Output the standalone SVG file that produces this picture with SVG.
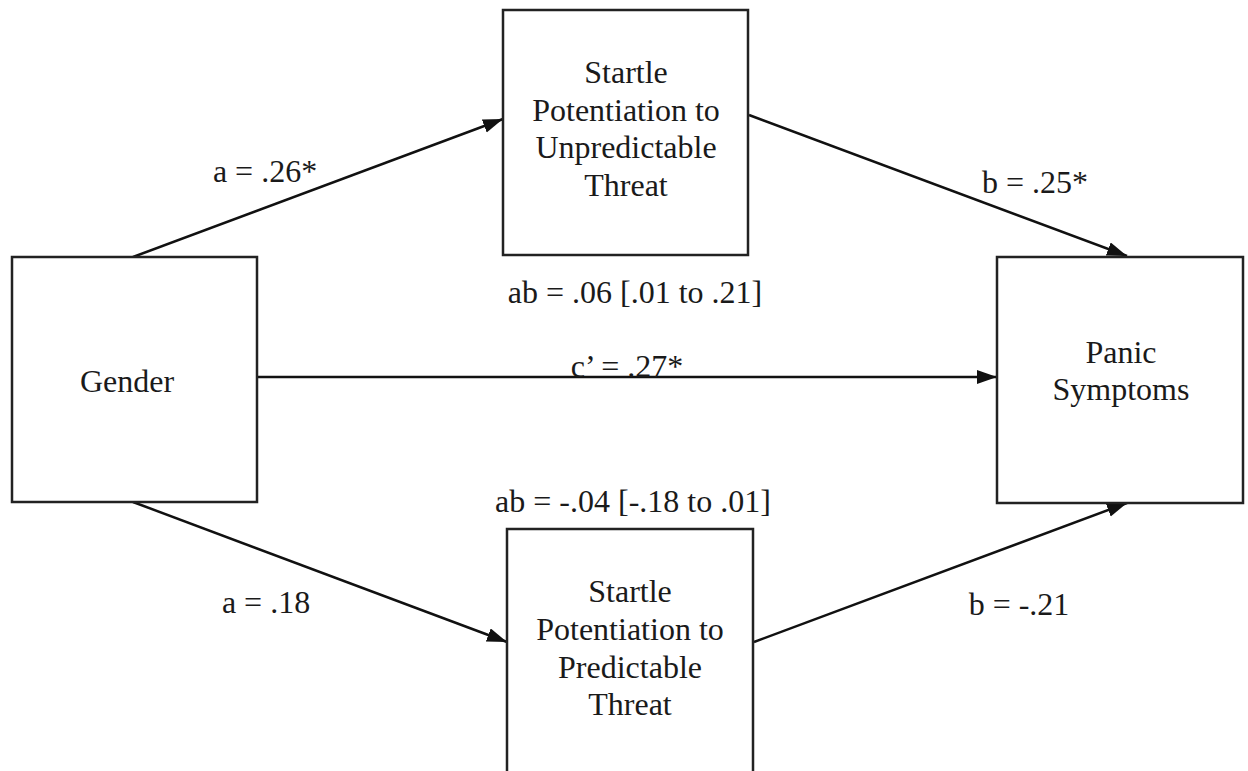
<svg xmlns="http://www.w3.org/2000/svg" width="1248" height="771" viewBox="0 0 1248 771">
<style>
.box{fill:#fff;stroke:#222;stroke-width:2.5}
.t{font-family:"Liberation Serif","Times New Roman",serif;font-size:32px;fill:#1a1a1a;text-anchor:middle}
.ln{stroke:#111;stroke-width:2.5;fill:none;marker-end:url(#ah)}
</style>
<defs>
<marker id="ah" markerUnits="userSpaceOnUse" markerWidth="22" markerHeight="16" refX="20" refY="7" orient="auto">
<path d="M0,0 L20,7 L0,14 z" fill="#111"/>
</marker>
</defs>
<rect width="1248" height="771" fill="#fff"/>
<g id="connectors">
<line class="ln" x1="133" y1="257" x2="503" y2="119"/>
<line class="ln" x1="749" y1="115" x2="1127" y2="256"/>
<line class="ln" x1="258" y1="377" x2="997" y2="377"/>
<line class="ln" x1="133" y1="502" x2="507" y2="642"/>
<line class="ln" x1="754" y1="642" x2="1127" y2="503"/>
<text class="t" x="265" y="182">a = .26*</text>
<text class="t" x="1035" y="193">b = .25*</text>
<text class="t" x="635" y="303">ab = .06 [.01 to .21]</text>
<text class="t" x="627" y="377">c’ = .27*</text>
<text class="t" x="633" y="512">ab = -.04 [-.18 to .01]</text>
<text class="t" x="266" y="613">a = .18</text>
<text class="t" x="1019" y="615">b = -.21</text>
</g>
<g id="gender">
<rect class="box" x="12" y="257" width="245" height="245"/>
<text class="t" x="127" y="392">Gender</text>
</g>
<g id="unpredictable">
<rect class="box" x="503" y="10" width="245" height="245"/>
<text class="t" x="626" y="83">Startle</text>
<text class="t" x="626" y="121">Potentiation to</text>
<text class="t" x="626" y="158">Unpredictable</text>
<text class="t" x="626" y="196">Threat</text>
</g>
<g id="panic">
<rect class="box" x="997" y="257" width="246" height="246"/>
<text class="t" x="1121" y="363">Panic</text>
<text class="t" x="1121" y="400">Symptoms</text>
</g>
<g id="predictable">
<rect class="box" x="507" y="529" width="246" height="260"/>
<text class="t" x="630" y="602">Startle</text>
<text class="t" x="630" y="640">Potentiation to</text>
<text class="t" x="630" y="678">Predictable</text>
<text class="t" x="630" y="715">Threat</text>
</g>
</svg>
